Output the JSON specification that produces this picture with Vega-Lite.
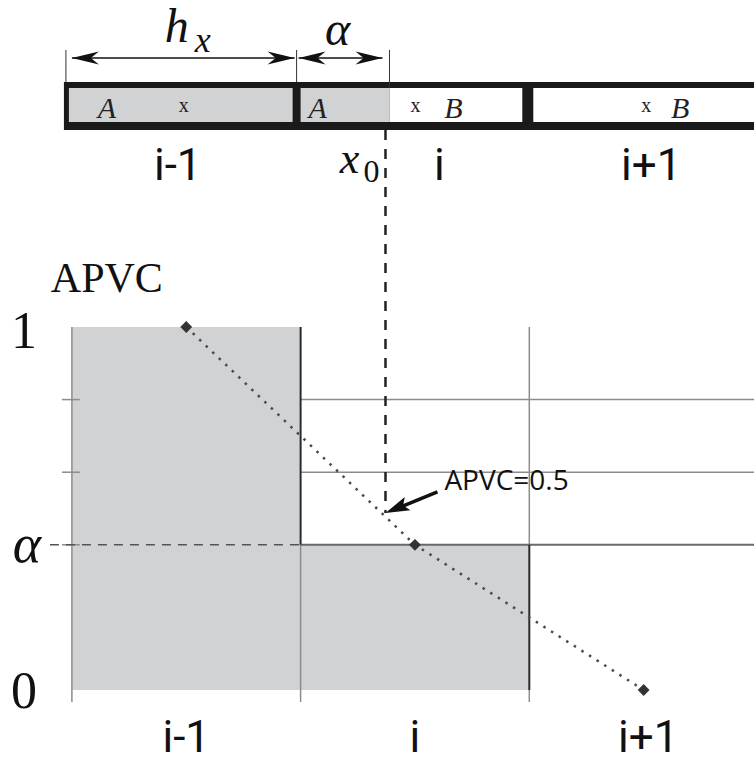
{
  "$schema": "https://vega.github.io/schema/vega-lite/v6.json",
  "width": 755,
  "height": 766,
  "autosize": {"type": "fit", "contains": "padding"},
  "padding": 0,
  "background": "white",
  "config": {"view": {"stroke": null}},
  "encoding": {
    "x": {"field": "x", "type": "quantitative", "scale": {"domain": [-0.31441, 2.98253], "nice": false, "zero": false}, "axis": null},
    "y": {"field": "y", "type": "quantitative", "scale": {"domain": [-0.20937, 1.90083], "nice": false, "zero": false}, "axis": null}
  },
  "layer": [
    {
      "data": {"values": [{"x": -0.0349, "x2": 2.98253, "y": 1.5427, "y2": 1.6749}]},
      "mark": {"type": "rect", "color": "#1a1a1a"},
      "encoding": {"x2": {"field": "x2"}, "y2": {"field": "y2"}}
    },
    {
      "data": {"values": [
        {"x": -0.0131, "x2": 0.9651, "y": 1.5647, "y2": 1.6584},
        {"x": 1.0, "x2": 1.3886, "y": 1.5647, "y2": 1.6584},
        {"x": 0, "x2": 1, "y": 0, "y2": 1},
        {"x": 1, "x2": 2, "y": 0, "y2": 0.4}
      ]},
      "mark": {"type": "rect", "color": "#d1d2d4"},
      "encoding": {"x2": {"field": "x2"}, "y2": {"field": "y2"}}
    },
    {
      "data": {"values": [
        {"x": 1.3886, "x2": 1.9694, "y": 1.5647, "y2": 1.6584},
        {"x": 2.0175, "x2": 2.98253, "y": 1.5647, "y2": 1.6584}
      ]},
      "mark": {"type": "rect", "color": "#ffffff"},
      "encoding": {"x2": {"field": "x2"}, "y2": {"field": "y2"}}
    },
    {
      "data": {"values": [
        {"x": 0, "y": 1, "x2": 0, "y2": -0.033},
        {"x": 1, "y": 0.4, "x2": 1, "y2": -0.033},
        {"x": 2, "y": 1, "x2": 2, "y2": 0.4},
        {"x": 2, "y": 0, "x2": 2, "y2": -0.033},
        {"x": 1, "y": 0.8, "x2": 2.98253, "y2": 0.8},
        {"x": 1, "y": 0.6, "x2": 2.98253, "y2": 0.6},
        {"x": -0.0437, "y": 0.8, "x2": 0.0349, "y2": 0.8},
        {"x": -0.0437, "y": 0.6, "x2": 0.0349, "y2": 0.6},
        {"x": -0.0437, "y": 0.4, "x2": 0.0349, "y2": 0.4}
      ]},
      "mark": {"type": "rule", "color": "#8c8c8c", "strokeWidth": 1.5},
      "encoding": {"x2": {"field": "x2"}, "y2": {"field": "y2"}}
    },
    {
      "data": {"values": [
        {"x": 1, "y": 0.4, "x2": 2.98253, "y2": 0.4}
      ]},
      "mark": {"type": "rule", "color": "#6a6a6a", "strokeWidth": 2},
      "encoding": {"x2": {"field": "x2"}, "y2": {"field": "y2"}}
    },
    {
      "data": {"values": [
        {"x": 1, "y": 1, "x2": 1, "y2": 0.4},
        {"x": 2, "y": 0.4, "x2": 2, "y2": 0}
      ]},
      "mark": {"type": "rule", "color": "#2b2b2b", "strokeWidth": 2},
      "encoding": {"x2": {"field": "x2"}, "y2": {"field": "y2"}}
    },
    {
      "data": {"values": [{"x": -0.096, "y": 0.4, "x2": 1.0, "y2": 0.4}]},
      "mark": {"type": "rule", "color": "#555555", "strokeWidth": 1.5, "strokeDash": [9, 7]},
      "encoding": {"x2": {"field": "x2"}, "y2": {"field": "y2"}}
    },
    {
      "data": {"values": [{"x": 1.3712, "y": 1.5427, "x2": 1.3712, "y2": 0.4876}]},
      "mark": {"type": "rule", "color": "#222222", "strokeWidth": 2.5, "strokeDash": [10, 9]},
      "encoding": {"x2": {"field": "x2"}, "y2": {"field": "y2"}}
    },
    {
      "data": {"values": [
        {"x": 0.5, "y": 1},
        {"x": 1.5, "y": 0.4},
        {"x": 2.5, "y": 0}
      ]},
      "mark": {"type": "line", "color": "#4a4a4a", "strokeWidth": 2.5, "strokeDash": [2.5, 6.5]},
      "encoding": {"order": {"field": "x"}}
    },
    {
      "data": {"values": [
        {"x": 0.5, "y": 1},
        {"x": 1.5, "y": 0.4},
        {"x": 2.5, "y": 0}
      ]},
      "mark": {"type": "point", "shape": "diamond", "filled": true, "color": "#333333", "size": 140, "opacity": 1},
      "encoding": {}
    },
    {
      "data": {"values": [
        {"x": -0.0262, "y": 1.6749, "x2": -0.0262, "y2": 1.7631},
        {"x": 0.9825, "y": 1.6749, "x2": 0.9825, "y2": 1.7631},
        {"x": 1.3886, "y": 1.6584, "x2": 1.3886, "y2": 1.7631}
      ]},
      "mark": {"type": "rule", "color": "#333333", "strokeWidth": 1},
      "encoding": {"x2": {"field": "x2"}, "y2": {"field": "y2"}}
    },
    {
      "data": {"values": [
        {"x": 0.0, "y": 1.741, "x2": 0.9738, "y2": 1.741},
        {"x": 0.9913, "y": 1.741, "x2": 1.3581, "y2": 1.741}
      ]},
      "mark": {"type": "rule", "color": "#111111", "strokeWidth": 1.5},
      "encoding": {"x2": {"field": "x2"}, "y2": {"field": "y2"}}
    },
    {
      "data": {"values": [{"x": 0.9738, "y": 1.741}, {"x": 1.3581, "y": 1.741}]},
      "mark": {"type": "point", "shape": "M0,0L-2,-0.48L-1.4,0L-2,0.48Z", "filled": true, "color": "#111111", "size": 729, "opacity": 1, "strokeWidth": 0},
      "encoding": {}
    },
    {
      "data": {"values": [{"x": 0.0, "y": 1.741}, {"x": 0.9913, "y": 1.741}]},
      "mark": {"type": "point", "shape": "M0,0L2,-0.48L1.4,0L2,0.48Z", "filled": true, "color": "#111111", "size": 729, "opacity": 1, "strokeWidth": 0},
      "encoding": {}
    },
    {
      "data": {"values": [{"x": 1.5983, "y": 0.5455, "x2": 1.4358, "y2": 0.5041}]},
      "mark": {"type": "rule", "color": "#111111", "strokeWidth": 3.5},
      "encoding": {"x2": {"field": "x2"}, "y2": {"field": "y2"}}
    },
    {
      "data": {"values": [{"x": 1.3712, "y": 0.4876}]},
      "mark": {"type": "point", "shape": "M0,0L-2,-0.6L-1.6,0L-2,0.6Z", "filled": true, "color": "#111111", "size": 576, "angle": 157, "opacity": 1, "strokeWidth": 0},
      "encoding": {}
    },
    {
      "data": {"values": [
        {"x": -0.2096, "y": 0.9421, "label": "1"},
        {"x": -0.2096, "y": -0.0496, "label": "0"}
      ]},
      "mark": {"type": "text", "font": "Liberation Serif", "fontSize": 52, "align": "center", "baseline": "alphabetic", "color": "#111111"},
      "encoding": {"text": {"field": "label"}}
    },
    {
      "data": {"values": [{"x": -0.1965, "y": 0.3526, "label": "α"}]},
      "mark": {"type": "text", "font": "Liberation Serif", "fontStyle": "italic", "fontSize": 54, "align": "center", "baseline": "alphabetic", "color": "#111111"},
      "encoding": {"text": {"field": "label"}}
    },
    {
      "data": {"values": [{"x": 0.1528, "y": 1.0964, "label": "APVC"}]},
      "mark": {"type": "text", "font": "Liberation Serif", "fontSize": 42, "align": "center", "baseline": "alphabetic", "color": "#111111"},
      "encoding": {"text": {"field": "label"}}
    },
    {
      "data": {"values": [
        {"x": 0.4585, "y": 1.7851, "label": "h"},
        {"x": 1.1616, "y": 1.7769, "label": "α"}
      ]},
      "mark": {"type": "text", "font": "Liberation Serif", "fontStyle": "italic", "fontSize": 48, "align": "center", "baseline": "alphabetic", "color": "#111111"},
      "encoding": {"text": {"field": "label"}}
    },
    {
      "data": {"values": [{"x": 0.572, "y": 1.7576, "label": "x"}]},
      "mark": {"type": "text", "font": "Liberation Serif", "fontStyle": "italic", "fontSize": 36, "align": "center", "baseline": "alphabetic", "color": "#111111"},
      "encoding": {"text": {"field": "label"}}
    },
    {
      "data": {"values": [{"x": 1.214, "y": 1.4242, "label": "x"}]},
      "mark": {"type": "text", "font": "Liberation Serif", "fontStyle": "italic", "fontSize": 44, "align": "center", "baseline": "alphabetic", "color": "#111111"},
      "encoding": {"text": {"field": "label"}}
    },
    {
      "data": {"values": [{"x": 1.31, "y": 1.3994, "label": "0"}]},
      "mark": {"type": "text", "font": "Liberation Serif", "fontSize": 32, "align": "center", "baseline": "alphabetic", "color": "#111111"},
      "encoding": {"text": {"field": "label"}}
    },
    {
      "data": {"values": [
        {"x": 0.1528, "y": 1.5758, "label": "A"},
        {"x": 1.0742, "y": 1.5758, "label": "A"},
        {"x": 1.6681, "y": 1.5758, "label": "B"},
        {"x": 2.6594, "y": 1.5758, "label": "B"}
      ]},
      "mark": {"type": "text", "font": "Liberation Serif", "fontStyle": "italic", "fontSize": 30, "align": "center", "baseline": "alphabetic", "color": "#222222"},
      "encoding": {"text": {"field": "label"}}
    },
    {
      "data": {"values": [
        {"x": 0.4891, "y": 1.5923, "label": "x"},
        {"x": 1.5022, "y": 1.5923, "label": "x"},
        {"x": 2.5109, "y": 1.5923, "label": "x"}
      ]},
      "mark": {"type": "text", "font": "Liberation Serif", "fontSize": 20, "align": "center", "baseline": "alphabetic", "color": "#222222"},
      "encoding": {"text": {"field": "label"}}
    },
    {
      "data": {"values": [
        {"x": 0.4629, "y": 1.405, "label": "i-1"},
        {"x": 1.607, "y": 1.405, "label": "i"},
        {"x": 2.533, "y": 1.405, "label": "i+1"},
        {"x": 0.5, "y": -0.1708, "label": "i-1"},
        {"x": 1.5, "y": -0.1708, "label": "i"},
        {"x": 2.52, "y": -0.1708, "label": "i+1"}
      ]},
      "mark": {"type": "text", "font": "Roboto", "fontSize": 44, "align": "center", "baseline": "alphabetic", "color": "#111111"},
      "encoding": {"text": {"field": "label"}}
    },
    {
      "data": {"values": [{"x": 1.6288, "y": 0.573, "label": "APVC=0.5"}]},
      "mark": {"type": "text", "font": "Open Sans", "fontSize": 28, "align": "left", "baseline": "middle", "color": "#111111"},
      "encoding": {"text": {"field": "label"}}
    }
  ]
}
